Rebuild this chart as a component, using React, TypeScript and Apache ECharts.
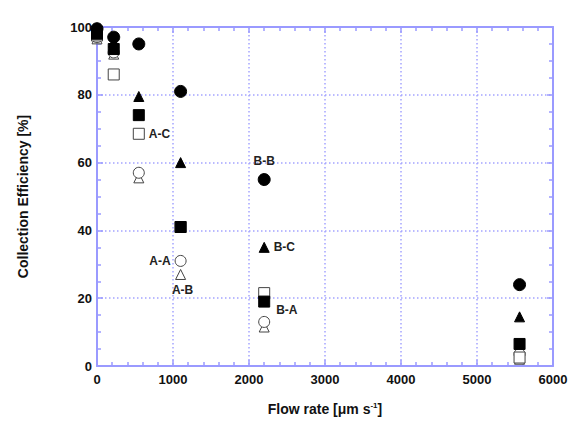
import React, { useEffect, useRef } from "react";
import * as echarts from "echarts";

const flowRates = [0, 220, 550, 1100, 2200, 5560];
const seriesBB = [99.5, 97, 95, 81, 55, 24];
const seriesBC = [98.5, 95.5, 79.5, 60, 35, 14.5];
const seriesBA = [98, 93.5, 74, 41, 19, 6.5];
const seriesAC = [97.5, 86, 68.5, 41, 21.5, 2.5];
const seriesAA = [97, 92.5, 57, 31, 13, 3.5];
const seriesAB = [96.5, 92, 55.5, 27, 11.5, 2];

// label placements
const labelSpecs: Record<string, { idx: number; position: string; offset: number[] }> = {
  "A-C": { idx: 2, position: "right", offset: [0, 0] },
  "A-A": { idx: 3, position: "left", offset: [0, 0] },
  "A-B": { idx: 3, position: "bottom", offset: [2, 0] },
  "B-B": { idx: 4, position: "top", offset: [0, -2] },
  "B-C": { idx: 4, position: "right", offset: [0, 0] },
  "B-A": { idx: 4, position: "right", offset: [2, 8] },
};

const FONT = "'Liberation Sans', Arial, sans-serif";
const BLUE = "#9a9aff";
const GRIDBLUE = "#a4a4ff";

function makeData(name: string, ys: number[]) {
  const spec = labelSpecs[name];
  return ys.map((y, i) => {
    const item: any = { value: [flowRates[i], y] };
    if (spec && spec.idx === i) {
      item.label = {
        show: true,
        position: spec.position,
        offset: spec.offset,
        distance: 4,
        formatter: name,
        color: "#222",
        fontFamily: FONT,
        fontWeight: "bold",
        fontSize: 12,
      };
    }
    return item;
  });
}

export default function App() {
  const ref = useRef<HTMLDivElement>(null);
  useEffect(() => {
    if (!ref.current) return;
    const chart = echarts.init(ref.current, null, { renderer: "svg" });
    const axisCommon = {
      min: 0,
      axisLine: { show: true, onZero: false, lineStyle: { color: BLUE, width: 2 } },
      axisTick: { show: true, inside: true, length: 6, lineStyle: { color: BLUE, width: 1.5 } },
      minorTick: { show: true, length: 4, lineStyle: { color: BLUE, width: 1.5 } },
    };
    const gridLine = {
      show: true,
      showMinLine: false,
      showMaxLine: false,
      lineStyle: { color: GRIDBLUE, type: [1.5, 2.5], width: 1.5 },
    };
    const openStyle = { color: "#fff", borderColor: "#444", borderWidth: 1, opacity: 1 };
    const filledStyle = { color: "#000", borderColor: "#000", borderWidth: 1, opacity: 1 };
    const mk = (name: string, ys: number[], symbol: string, size: number, style: any) => ({
      name,
      type: "scatter",
      symbol,
      symbolSize: size,
      clip: false,
      itemStyle: style,
      data: makeData(name, ys),
    });
    const tickFont = {
      color: "#111",
      fontFamily: FONT,
      fontWeight: "bold",
      fontSize: 13,
    };
    const nameFont = { ...tickFont, fontSize: 14 };
    chart.setOption({
      animation: false,
      backgroundColor: "#fff",
      grid: { left: 97, right: 19, top: 27, bottom: 55 },
      xAxis: [
        {
          ...axisCommon,
          type: "value",
          max: 6000,
          interval: 1000,
          minorTick: { ...axisCommon.minorTick, splitNumber: 5 },
          position: "bottom",
          axisLabel: { ...tickFont, margin: 7, formatter: (v: number) => String(v) },
          splitLine: gridLine,
          name: "Flow rate [μm s{sup|-1}]",
          nameLocation: "middle",
          nameGap: 35,
          nameTextStyle: {
            ...nameFont,
            verticalAlign: "top",
            lineHeight: 16,
            rich: {
              sup: { fontSize: 8, fontFamily: FONT, fontWeight: "bold", verticalAlign: "top", lineHeight: 16, color: "#111" },
            },
          },
        },
        {
          ...axisCommon,
          type: "value",
          max: 6000,
          interval: 1000,
          minorTick: { ...axisCommon.minorTick, splitNumber: 5 },
          position: "top",
          axisLabel: { show: false },
          splitLine: { show: false },
        },
      ],
      yAxis: [
        {
          ...axisCommon,
          type: "value",
          max: 100,
          interval: 20,
          minorTick: { ...axisCommon.minorTick, splitNumber: 4 },
          position: "left",
          axisLabel: { ...tickFont, margin: 5 },
          splitLine: gridLine,
          name: "Collection Efficiency [%]",
          nameLocation: "middle",
          nameGap: 67,
          nameTextStyle: { ...nameFont },
        },
        {
          ...axisCommon,
          type: "value",
          max: 100,
          interval: 20,
          minorTick: { ...axisCommon.minorTick, splitNumber: 4 },
          position: "right",
          axisLabel: { show: false },
          splitLine: { show: false },
        },
      ],
      series: [
        mk("A-B", seriesAB, "triangle", 10, openStyle),
        mk("A-A", seriesAA, "circle", 11, openStyle),
        mk("A-C", seriesAC, "rect", 11, openStyle),
        mk("B-A", seriesBA, "rect", 11, filledStyle),
        mk("B-C", seriesBC, "triangle", 10, filledStyle),
        mk("B-B", seriesBB, "circle", 12, filledStyle),
      ],
    });
    return () => chart.dispose();
  }, []);
  return <div ref={ref} style={{ width: 572, height: 422, position: "absolute", left: 0, top: 0 }} />;
}
